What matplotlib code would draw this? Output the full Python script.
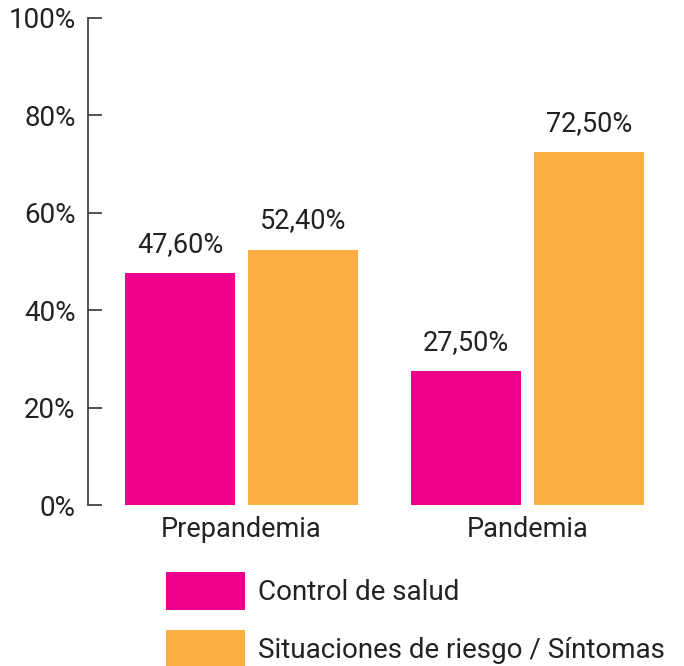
import numpy as np
import matplotlib.pyplot as plt
from matplotlib.ticker import FuncFormatter

plt.rcParams['font.family'] = ['Roboto', 'DejaVu Sans']

# datos
periodos = ['Prepandemia', 'Pandemia']
control_salud = [47.6, 27.5]
situaciones_riesgo = [52.4, 72.5]
series = ['Control de salud', 'Situaciones de riesgo / Síntomas']
colores = ['#EC008C', '#FBAE42']
texto = '#222222'

fig = plt.figure(figsize=(6.84, 6.66), dpi=100)
ax = fig.add_axes([0.1287, 0.2417, 0.867, 0.7313])

x = np.arange(len(periodos))
ancho = 0.385
desp = 0.215
b1 = ax.bar(x - desp, control_salud, ancho, color=colores[0], label=series[0])
b2 = ax.bar(x + desp, situaciones_riesgo, ancho, color=colores[1], label=series[1])

# etiquetas de valor
for barras in (b1, b2):
    for b in barras:
        v = b.get_height()
        ax.annotate(f'{v:.2f}%'.replace('.', ','), (b.get_x() + b.get_width() / 2, v),
                    xytext=(0, 11), textcoords='offset points',
                    ha='center', va='bottom', fontsize=19.5, color=texto)

ax.set_ylim(0, 100)
ax.set_xlim(-0.537, 1.537)
ax.set_yticks(np.arange(0, 101, 20))
ax.yaxis.set_major_formatter(FuncFormatter(lambda v, p: f'{v:.0f}%'))
ax.set_xticks(x)
ax.set_xticklabels(periodos)

for s in ['top', 'right', 'bottom']:
    ax.spines[s].set_visible(False)
ax.spines['left'].set_color('#444444')
ax.spines['left'].set_linewidth(1.3)
ax.tick_params(axis='y', direction='in', length=10, width=1.3, color='#444444',
               labelsize=20, labelcolor=texto, pad=9)
ax.tick_params(axis='x', length=0, labelsize=19.5, labelcolor=texto, pad=8)

# leyenda debajo del gráfico
leg = ax.legend(loc='upper left', bbox_to_anchor=(166 / 684, 1 - 572 / 666),
                bbox_transform=fig.transFigure, frameon=False, fontsize=20,
                handlelength=2.84, handleheight=1.726, labelspacing=0.72,
                handletextpad=0.47, borderpad=0, borderaxespad=0, labelcolor=texto)

fig.savefig('out.png', dpi=100)
